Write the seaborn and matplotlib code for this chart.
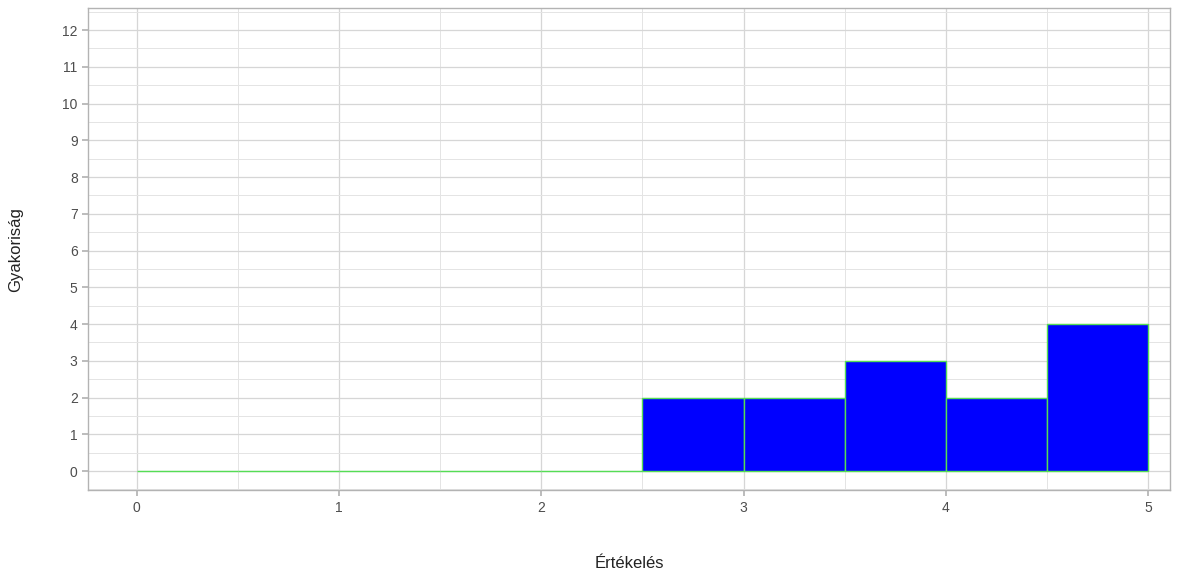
import matplotlib
matplotlib.use("Agg")
import matplotlib.pyplot as plt
import seaborn as sns
from matplotlib.ticker import MultipleLocator

# Histogram data (bin edges and counts)
bin_edges = [0.0, 0.5, 1.0, 1.5, 2.0, 2.5, 3.0, 3.5, 4.0, 4.5, 5.0]
counts = [0, 0, 0, 0, 0, 2, 2, 3, 2, 4]
bin_centers = [(a + b) / 2 for a, b in zip(bin_edges[:-1], bin_edges[1:])]

x_ticks = [0, 1, 2, 3, 4, 5]
y_ticks = list(range(0, 13))

sns.set_theme(style="white")
plt.rcParams['font.family'] = ['Liberation Sans', 'DejaVu Sans']

fig = plt.figure(figsize=(11.98, 5.74), dpi=100)
ax = fig.add_axes([0.0735, 0.146, 0.9035, 0.840])

sns.histplot(x=bin_centers, weights=counts, bins=bin_edges, ax=ax,
             color="#0000ff", alpha=1, edgecolor="#55dd55", linewidth=1.0,
             zorder=3)

ax.set_xlim(-0.24, 5.11)
ax.set_ylim(-0.52, 12.6)
ax.set_xticks(x_ticks)
ax.set_yticks(y_ticks)
ax.xaxis.set_minor_locator(MultipleLocator(0.5))
ax.yaxis.set_minor_locator(MultipleLocator(0.5))

ax.grid(which="major", color="#d6d6d6", linewidth=0.9, zorder=0)
ax.grid(which="minor", color="#e4e4e4", linewidth=0.7, zorder=0)
ax.set_axisbelow(True)

for s in ax.spines.values():
    s.set_color("#b3b3b3")
    s.set_linewidth(1.0)

ax.tick_params(axis="both", which="major", length=4, color="#b3b3b3",
               labelcolor="#4d4d4d", labelsize=10, bottom=True, left=True)
ax.tick_params(axis="both", which="minor", length=0)

ax.set_xlabel("Értékelés", fontsize=12, color="#222222", labelpad=30)
ax.set_ylabel("Gyakoriság", fontsize=12, color="#222222", labelpad=28)

fig.savefig("out.png", dpi=100)
